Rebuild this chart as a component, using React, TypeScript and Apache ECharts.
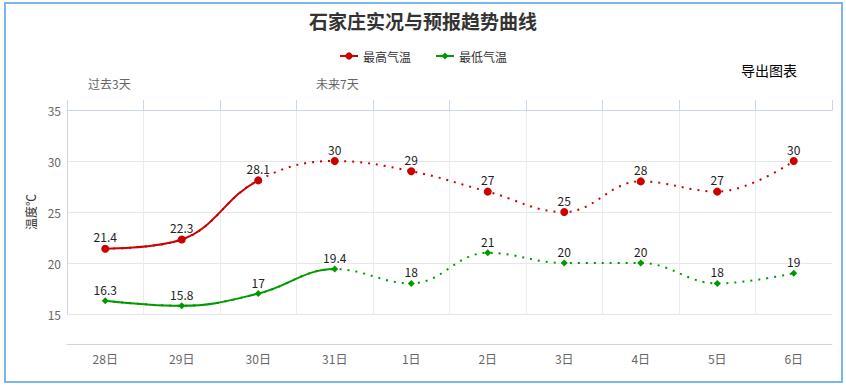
import React, { useEffect, useRef } from "react";
import * as echarts from "echarts";

const categories = ["28日", "29日", "30日", "31日", "1日", "2日", "3日", "4日", "5日", "6日"];
const maxTemps = [21.4, 22.3, 28.1, 30, 29, 27, 25, 28, 27, 30];
const minTemps = [16.3, 15.8, 17, 19.4, 18, 21, 20, 20, 18, 19];
const maxSolidUntil = 2; // index of last observed point for 最高气温
const minSolidUntil = 3; // index of last observed point for 最低气温
const yTicks = { min: 15, max: 35, interval: 5 };

const FONT = "'Microsoft YaHei', 'Noto Sans CJK SC', sans-serif";
const RED = "#cc0000";
const GREEN = "#009900";

export default function App() {
  const ref = useRef<HTMLDivElement>(null);
  useEffect(() => {
    if (!ref.current) return;
    const chart = echarts.init(ref.current, null, { renderer: "svg" });
    const gLeft = 67;
    const gRight = 14;
    const gTop = 110;
    const gBottom = 73;
    const plotW = 846 - gLeft - gRight;
    const step = plotW / categories.length;

    const clipGrid = (lastIdx: number) => ({
      left: gLeft,
      top: gTop,
      bottom: gBottom,
      width: step * (lastIdx + 0.5),
    });

    const labelStyle = {
      show: true,
      position: "top" as const,
      distance: 2,
      fontSize: 12,
      color: "#222",
      fontFamily: FONT,
      textBorderColor: "#fff",
      textBorderWidth: 2,
    };

    chart.setOption({
      animation: false,
      textStyle: { fontFamily: FONT },
      title: {
        text: "石家庄实况与预报趋势曲线",
        left: "center",
        top: 6,
        textStyle: { fontSize: 19, fontWeight: "bold", color: "#333", fontFamily: FONT },
      },
      legend: {
        top: 45,
        left: "center",
        itemWidth: 18,
        itemHeight: 9,
        itemGap: 24,
        data: ["最高气温", "最低气温"],
        textStyle: { fontSize: 12, color: "#333", fontFamily: FONT },
      },
      graphic: [
        {
          type: "rect",
          shape: { x: 5, y: 3, width: 837, height: 379 },
          style: { fill: "none", stroke: "#7cb5ec", lineWidth: 2 },
          silent: true,
        },
        {
          type: "text",
          left: 741,
          top: 63,
          style: { text: "导出图表", fontSize: 14, fill: "#000", fontFamily: FONT },
        },
        {
          type: "text",
          left: 88,
          top: 77,
          style: { text: "过去3天", fontSize: 12, fill: "#666", fontFamily: FONT },
        },
        {
          type: "text",
          left: 316,
          top: 77,
          style: { text: "未来7天", fontSize: 12, fill: "#666", fontFamily: FONT },
        },
      ],
      grid: [
        { left: gLeft, right: gRight, top: gTop, bottom: gBottom },
        clipGrid(maxSolidUntil),
        clipGrid(minSolidUntil),
      ],
      xAxis: [
        {
          type: "category",
          gridIndex: 0,
          position: "bottom",
          offset: 30,
          data: categories,
          axisLine: { lineStyle: { color: "#ccd6eb" } },
          axisTick: { length: 10, lineStyle: { color: "#ccd6eb" } },
          axisLabel: { color: "#666", fontSize: 12, margin: 8, fontFamily: FONT },
          splitLine: { show: false },
        },
        {
          type: "category",
          gridIndex: 0,
          position: "top",
          data: categories,
          axisLine: { lineStyle: { color: "#ccd6eb" } },
          axisTick: { show: true, length: 10, lineStyle: { color: "#ccd6eb" } },
          axisLabel: { show: false },
          splitLine: { show: true, showMinLine: false, showMaxLine: false, lineStyle: { color: "#ececec" } },
        },
        {
          type: "value",
          gridIndex: 1,
          min: -0.5,
          max: maxSolidUntil,
          show: false,
        },
        {
          type: "value",
          gridIndex: 2,
          min: -0.5,
          max: minSolidUntil,
          show: false,
        },
      ],
      yAxis: [
        {
          type: "value",
          gridIndex: 0,
          min: yTicks.min,
          max: yTicks.max,
          interval: yTicks.interval,
          name: "温度℃",
          nameLocation: "middle",
          nameGap: 30,
          nameTextStyle: { color: "#333", fontSize: 12, fontFamily: FONT },
          axisLine: { show: true, lineStyle: { color: "#ccd6eb" } },
          axisTick: { show: false },
          axisLabel: { color: "#666", fontSize: 12, margin: 6, fontFamily: FONT },
          splitLine: { show: true, lineStyle: { color: "#e6e6e6" } },
        },
        { type: "value", gridIndex: 1, min: yTicks.min, max: yTicks.max, show: false },
        { type: "value", gridIndex: 2, min: yTicks.min, max: yTicks.max, show: false },
      ],
      series: [
        {
          name: "最高气温",
          type: "line",
          xAxisIndex: 2,
          yAxisIndex: 1,
          data: maxTemps.map((v, i) => [i, v]),
          smooth: 0.4,
          symbol: "circle",
          showSymbol: false,
          clip: true,
          z: 1,
          lineStyle: { color: RED, width: 2 },
          itemStyle: { color: RED },
          silent: true,
        },
        {
          name: "最低气温",
          type: "line",
          xAxisIndex: 3,
          yAxisIndex: 2,
          data: minTemps.map((v, i) => [i, v]),
          smooth: 0.4,
          symbol: "diamond",
          showSymbol: false,
          clip: true,
          z: 1,
          lineStyle: { color: GREEN, width: 2 },
          itemStyle: { color: GREEN },
          silent: true,
        },
        {
          name: "最高气温",
          type: "line",
          xAxisIndex: 0,
          yAxisIndex: 0,
          data: maxTemps,
          smooth: 0.4,
          symbol: "circle",
          symbolSize: 8,
          showAllSymbol: true,
          z: 3,
          lineStyle: { color: RED, width: 2, type: [2, 6] },
          itemStyle: { color: RED },
          label: labelStyle,
        },
        {
          name: "最低气温",
          type: "line",
          xAxisIndex: 0,
          yAxisIndex: 0,
          data: minTemps,
          smooth: 0.4,
          symbol: "diamond",
          symbolSize: 7,
          showAllSymbol: true,
          z: 3,
          lineStyle: { color: GREEN, width: 2, type: [2, 6] },
          itemStyle: { color: GREEN },
          label: labelStyle,
        },
      ],
    });
    return () => chart.dispose();
  }, []);
  return (
    <div
      ref={ref}
      style={{ position: "fixed", left: 0, top: 0, width: 846, height: 387, background: "#fff" }}
    />
  );
}
